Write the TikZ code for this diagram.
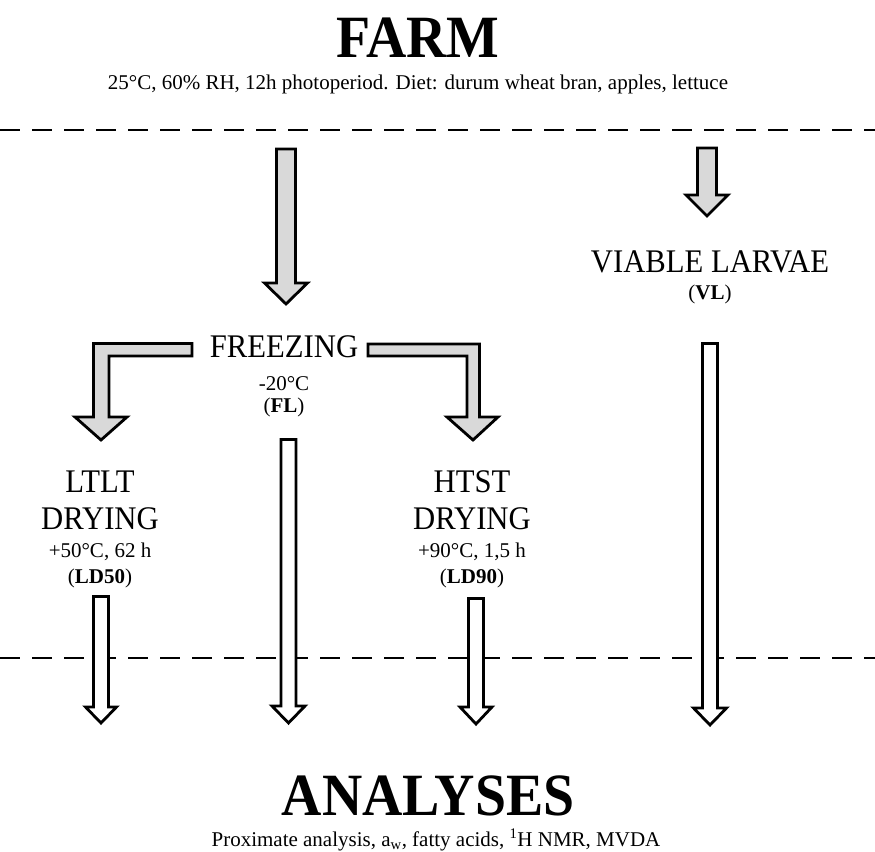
\documentclass[tikz,border=0pt]{standalone}
\usepackage{fontspec}
\setmainfont{Liberation Serif}
\newfontfamily\narrowserif{Liberation Serif}[FakeStretch=0.93]
\usepackage{tikz}
\usepackage{xcolor}
\usetikzlibrary{positioning,calc}

\definecolor{arrowgray}{RGB}{217,217,217}

% straight block arrow: fill, x, top, tip, shaft half width, head half width, head length
\newcommand{\blockarrow}[7]{%
  \draw[blockline, fill=#1]
    ({#2-#5},#3) -- ({#2+#5},#3) -- ({#2+#5},{#4-#7}) -- ({#2+#6},{#4-#7})
    -- (#2,#4) -- ({#2-#6},{#4-#7}) -- ({#2-#5},{#4-#7}) -- cycle;
}

\begin{document}
\begin{tikzpicture}[
      x=1pt, y=-1pt,
      title/.style={anchor=base, font=\narrowserif\fontsize{60}{60}\selectfont\bfseries},
      cond/.style={anchor=base, font=\fontsize{21}{24}\selectfont},
      stage/.style={anchor=base, font=\narrowserif\fontsize{33}{36}\selectfont},
      small/.style={anchor=base, font=\fontsize{21}{24}\selectfont},
      blockline/.style={draw, line width=2.8pt, miter limit=10},
      divider/.style={line width=2.6pt, dash pattern=on 20pt off 12pt}
  ]
    \useasboundingbox (0,0) rectangle (875,851);

    % farm
    \node[title] (farm) at (418,57) {FARM};
    \node[cond] (farmcond) at (418,89) {25°C, 60\% RH, 12h photoperiod. Diet: durum wheat bran, apples, lettuce};
    \draw[divider] (0,130) -- (875,130);

    % gray arrows from the farm
    \blockarrow{arrowgray}{286}{149}{304}{9.5}{21.5}{21}
    \blockarrow{arrowgray}{707}{148}{216}{9.5}{21}{21}

    % viable larvae
    \node[stage] (vl) at (710,272) {VIABLE LARVAE};
    \node[small] (vlcode) at (710,299) {(\textbf{VL})};

    % freezing
    \node[stage] (freeze) at (284,357) {FREEZING};
    \node[small] (freezetemp) at (284,390) {-20°C};
    \node[small] (freezecode) at (284,412) {(\textbf{FL})};

    % bent arrows
    \draw[blockline, fill=arrowgray]
      (192,343.5) -- (93.5,343.5) -- (93.5,417) -- (75,417) -- (101,440)
      -- (127,417) -- (109,417) -- (109,356) -- (192,356) -- cycle;
    \draw[blockline, fill=arrowgray]
      (368,344) -- (479.5,344) -- (479.5,417) -- (498,417) -- (473,440)
      -- (447,417) -- (467,417) -- (467,356) -- (368,356) -- cycle;

    % drying
    \node[stage] (ltlt) at (100,492) {LTLT};
    \node[stage] (ltltdry) at (100,529) {DRYING};
    \node[small] (ltlttemp) at (100,557) {+50°C, 62 h};
    \node[small] (ltltcode) at (100,583) {(\textbf{LD50})};

    \node[stage] (htst) at (472,492) {HTST};
    \node[stage] (htstdry) at (472,529) {DRYING};
    \node[small] (htsttemp) at (472,557) {+90°C, 1,5 h};
    \node[small] (htstcode) at (472,583) {(\textbf{LD90})};

    \draw[divider] (0,658) -- (875,658);

    % white arrows to the analyses
    \blockarrow{white}{101}{596.5}{723}{7.5}{15.5}{16}
    \blockarrow{white}{288.5}{439.5}{723}{7.5}{16.5}{17}
    \blockarrow{white}{476}{598.5}{724}{7.5}{16}{17}
    \blockarrow{white}{710}{343.5}{725}{7.5}{16.5}{17}

    % analyses
    \node[title] (analyses) at (428,815) {ANALYSES};
    \node[cond] (analysesmethods) at (436,846) {Proximate analysis, a\textsubscript{w}, fatty acids, \textsuperscript{1}H NMR, MVDA};
\end{tikzpicture}
\end{document}
